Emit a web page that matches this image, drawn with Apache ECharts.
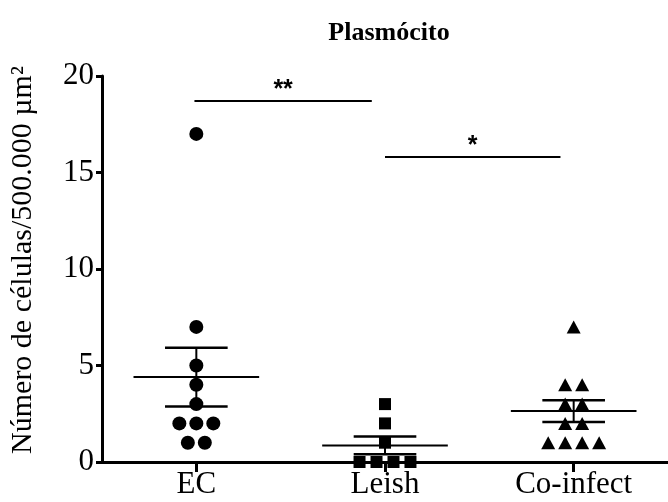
<!DOCTYPE html>
<html>
<head>
<meta charset="utf-8">
<script src="https://cdn.jsdelivr.net/npm/echarts@6/dist/echarts.min.js"></script>
<style>
html, body { margin: 0; padding: 0; background: #fff; }
#chart { width: 668px; height: 502px; }
</style>
</head>
<body>
<div id="chart"></div>
<script>
// grupos e valores
var categories = ['EC', 'Leish', 'Co-infect'];
var ecValues = [17, 7, 5, 4, 3, 2, 2, 2, 1, 1];
var leishValues = [3, 2, 1, 0, 0, 0, 0];
var coValues = [7, 4, 4, 3, 3, 2, 2, 1, 1, 1, 1];

// barras de significancia
var sigLabels = ['**', '*'];
var sigFrom = [0.99, 2.0];
var sigTo = [1.93, 2.93];
var sigY = [18.7, 15.8];

var SERIF = "'Liberation Serif', 'Times New Roman', serif";

// espalha pontos repetidos lado a lado
function swarm(values, center) {
    var counts = {}, seen = {};
    values.forEach(function (v) { counts[v] = (counts[v] || 0) + 1; });
    return values.map(function (v) {
        seen[v] = (seen[v] || 0) + 1;
        var off = (seen[v] - 1 - (counts[v] - 1) / 2) * 0.09;
        return [center + off, v];
    });
}

function meanSem(values, center) {
    var n = values.length;
    var m = values.reduce(function (a, b) { return a + b; }, 0) / n;
    var ss = values.reduce(function (a, b) { return a + (b - m) * (b - m); }, 0);
    var sem = Math.sqrt(ss / (n - 1)) / Math.sqrt(n);
    return [center, m, sem];
}

var groups = [ecValues, leishValues, coValues];
var statsData = groups.map(function (g, i) { return meanSem(g, i + 1); });
var sigData = sigLabels.map(function (t, i) { return [sigFrom[i], sigTo[i], sigY[i], t]; });

var myChart = echarts.init(document.getElementById('chart'));

var option = {
    animation: false,
    backgroundColor: '#fff',
    title: {
        text: 'Plasmócito',
        left: 384,
        top: 15,
        textAlign: 'center',
        textStyle: { fontFamily: SERIF, fontWeight: 'bold', fontSize: 26, color: '#000' }
    },
    grid: { left: 100, right: -9, top: 76, bottom: 40 },
    xAxis: {
        type: 'value',
        min: 0.5,
        max: 3.5,
        splitLine: { show: false },
        axisLine: { lineStyle: { color: '#000', width: 3 } },
        axisTick: { customValues: [1, 2, 3], length: 10, lineStyle: { color: '#000', width: 3 } },
        axisLabel: {
            customValues: [1, 2, 3],
            margin: 7,
            fontFamily: SERIF, fontSize: 31, color: '#000',
            formatter: function (v) { return categories[Math.round(v) - 1]; }
        }
    },
    yAxis: {
        type: 'value',
        min: 0,
        max: 20,
        interval: 5,
        name: 'Número de células/500.000 µm²',
        nameLocation: 'middle',
        nameGap: 64,
        nameTextStyle: { fontFamily: SERIF, fontSize: 30, color: '#000', padding: [0, 0, 0, 18] },
        splitLine: { show: false },
        axisLine: { show: true, lineStyle: { color: '#000', width: 3 } },
        axisTick: { show: true, length: 6, lineStyle: { color: '#000', width: 3 } },
        axisLabel: { margin: 8, fontFamily: SERIF, fontSize: 31, color: '#000' }
    },
    series: [
        {
            type: 'custom',
            z: 2,
            data: statsData,
            renderItem: function (params, api) {
                var x = api.value(0), m = api.value(1), s = api.value(2);
                var c = api.coord([x, m]);
                var up = api.coord([x, m + s]);
                var lo = api.coord([x, m - s]);
                var hw = api.size([0.333, 0])[0];
                var sw = api.size([0.166, 0])[0];
                var st = { stroke: '#000', lineWidth: 2 };
                return {
                    type: 'group',
                    children: [
                        { type: 'line', shape: { x1: c[0] - hw, y1: c[1], x2: c[0] + hw, y2: c[1] }, style: st },
                        { type: 'line', shape: { x1: up[0] - sw, y1: up[1], x2: up[0] + sw, y2: up[1] }, style: { stroke: '#000', lineWidth: 2.5 } },
                        { type: 'line', shape: { x1: lo[0] - sw, y1: lo[1], x2: lo[0] + sw, y2: lo[1] }, style: { stroke: '#000', lineWidth: 2.5 } },
                        { type: 'line', shape: { x1: up[0], y1: up[1], x2: lo[0], y2: lo[1] }, style: st }
                    ]
                };
            }
        },
        {
            type: 'custom',
            z: 2,
            data: sigData,
            renderItem: function (params, api) {
                var a = api.coord([api.value(0), api.value(2)]);
                var b = api.coord([api.value(1), api.value(2)]);
                return {
                    type: 'group',
                    children: [
                        { type: 'line', shape: { x1: a[0], y1: a[1], x2: b[0], y2: b[1] }, style: { stroke: '#000', lineWidth: 2 } },
                        {
                            type: 'text',
                            style: {
                                text: sigLabels[params.dataIndex],
                                x: (a[0] + b[0]) / 2, y: a[1] - 11,
                                align: 'center', verticalAlign: 'middle',
                                fontFamily: "'Liberation Sans', Arial, sans-serif",
                                fontWeight: 'bold', fontSize: 25, fill: '#000'
                            }
                        }
                    ]
                };
            }
        },
        {
            type: 'scatter', z: 3, symbol: 'circle', symbolSize: 14,
            itemStyle: { color: '#000', opacity: 1 },
            data: swarm(ecValues, 1)
        },
        {
            type: 'scatter', z: 3, symbol: 'rect', symbolSize: 12,
            itemStyle: { color: '#000', opacity: 1 },
            data: swarm(leishValues, 2)
        },
        {
            type: 'scatter', z: 3, symbol: 'triangle', symbolSize: [14, 13],
            itemStyle: { color: '#000', opacity: 1 },
            data: swarm(coValues, 3)
        }
    ]
};

myChart.setOption(option);
</script>
</body>
</html>
